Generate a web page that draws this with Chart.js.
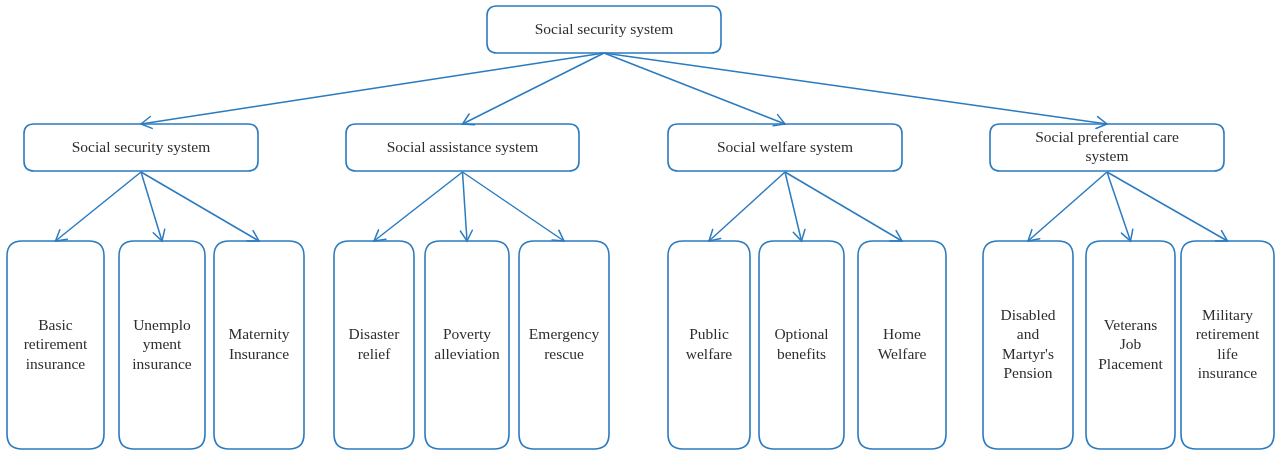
<!DOCTYPE html>
<html>
<head>
<meta charset="utf-8">
<script src="https://cdn.jsdelivr.net/npm/chart.js@4.4.1/dist/chart.umd.min.js"></script>
<style>
html,body{margin:0;padding:0;background:#fff;}
#wrap{position:relative;width:1275px;height:453px;}
</style>
</head>
<body>
<div id="wrap"><canvas id="c"></canvas></div>
<script>
// ---- data ----
const rootLabel = ['Social security system'];
const groupLabels = [
  ['Social security system'],
  ['Social assistance system'],
  ['Social welfare system'],
  ['Social preferential care', 'system']
];
const leafLabels = [
  ['Basic', 'retirement', 'insurance'],
  ['Unemplo', 'yment', 'insurance'],
  ['Maternity', 'Insurance'],
  ['Disaster', 'relief'],
  ['Poverty', 'alleviation'],
  ['Emergency', 'rescue'],
  ['Public', 'welfare'],
  ['Optional', 'benefits'],
  ['Home', 'Welfare'],
  ['Disabled', 'and', "Martyr's", 'Pension'],
  ['Veterans', 'Job', 'Placement'],
  ['Military', 'retirement', 'life', 'insurance']
];
const leafParent = [0,0,0,1,1,1,2,2,2,3,3,3];

// ---- layout (chart units = pixels of the 1275x453 frame) ----
const layout = {
  root: {x1:487, x2:721, y1:6, y2:53, r:10},
  groups: {y1:124, y2:171, r:10, xs:[[24,258],[346,579],[668,902],[990,1224]]},
  leaves: {y1:241, y2:449, r:15, xs:[[7,104],[119,205],[214,304],[334,414],[425,509],[519,609],
                                     [668,750],[759,844],[858,946],[983,1073],[1086,1175],[1181,1274]]}
};
const BLUE = '#2b7bc0';
const TEXT = '#2e2e2e';
const FONT = '15.5px "Liberation Serif", "DejaVu Serif", serif';
const LINE_H = 19.5;

// edges derived from the tree
const edges = [];
const rootCx = (layout.root.x1 + layout.root.x2)/2;
layout.groups.xs.forEach(g => {
  edges.push([{x:rootCx, y:layout.root.y2}, {x:(g[0]+g[1])/2, y:layout.groups.y1}]);
});
layout.leaves.xs.forEach((l,i) => {
  const g = layout.groups.xs[leafParent[i]];
  edges.push([{x:(g[0]+g[1])/2, y:layout.groups.y2+1}, {x:(l[0]+l[1])/2, y:layout.leaves.y1}]);
});

const datasets = edges.map(e => ({
  type:'line', data:e, borderColor:BLUE, borderWidth:1.5, pointRadius:0, fill:false, tension:0
}));

function rrect(ctx, x1, y1, x2, y2, r){
  ctx.beginPath();
  ctx.moveTo(x1+r, y1);
  ctx.lineTo(x2-r, y1);
  ctx.quadraticCurveTo(x2, y1, x2, y1+r);
  ctx.lineTo(x2, y2-r);
  ctx.quadraticCurveTo(x2, y2, x2-r, y2);
  ctx.lineTo(x1+r, y2);
  ctx.quadraticCurveTo(x1, y2, x1, y2-r);
  ctx.lineTo(x1, y1+r);
  ctx.quadraticCurveTo(x1, y1, x1+r, y1);
  ctx.closePath();
}

const treePlugin = {
  id:'tree',
  beforeDatasetsDraw(chart){
    const ctx = chart.ctx;
    const sx = chart.scales.x, sy = chart.scales.y;
    const X = v => sx.getPixelForValue(v), Y = v => sy.getPixelForValue(v);
    const drawBox = (x1,y1,x2,y2,r,lines) => {
      ctx.save();
      rrect(ctx, X(x1), Y(y1), X(x2), Y(y2), r);
      ctx.fillStyle = '#fff'; ctx.fill();
      ctx.strokeStyle = BLUE; ctx.lineWidth = 1.6; ctx.stroke();
      ctx.fillStyle = TEXT; ctx.font = FONT;
      ctx.textAlign = 'center'; ctx.textBaseline = 'middle';
      const cx = (X(x1)+X(x2))/2, cy = (Y(y1)+Y(y2))/2;
      const n = lines.length;
      lines.forEach((t,k) => ctx.fillText(t, cx, cy + (k - (n-1)/2)*LINE_H));
      ctx.restore();
    };
    const R = layout.root;
    drawBox(R.x1, R.y1, R.x2, R.y2, R.r, rootLabel);
    layout.groups.xs.forEach((g,i) => drawBox(g[0], layout.groups.y1, g[1], layout.groups.y2, layout.groups.r, groupLabels[i]));
    layout.leaves.xs.forEach((l,i) => drawBox(l[0], layout.leaves.y1, l[1], layout.leaves.y2, layout.leaves.r, leafLabels[i]));
  },
  afterDatasetsDraw(chart){
    const ctx = chart.ctx;
    ctx.save();
    ctx.strokeStyle = BLUE; ctx.lineWidth = 1.5; ctx.lineCap = 'round';
    chart.data.datasets.forEach((ds, i) => {
      const pts = chart.getDatasetMeta(i).data;
      const a = pts[0], b = pts[1];
      const ang = Math.atan2(b.y - a.y, b.x - a.x);
      const L = 12, w = Math.PI/6;
      ctx.beginPath();
      ctx.moveTo(b.x - L*Math.cos(ang - w), b.y - L*Math.sin(ang - w));
      ctx.lineTo(b.x, b.y);
      ctx.lineTo(b.x - L*Math.cos(ang + w), b.y - L*Math.sin(ang + w));
      ctx.stroke();
    });
    ctx.restore();
  }
};

new Chart(document.getElementById('c'), {
  type:'scatter',
  data:{datasets},
  options:{
    responsive:true, maintainAspectRatio:false, animation:false,
    layout:{padding:0},
    plugins:{legend:{display:false}, tooltip:{enabled:false}},
    scales:{
      x:{type:'linear', min:0, max:1275, display:false},
      y:{type:'linear', min:0, max:453, reverse:true, display:false}
    }
  },
  plugins:[treePlugin]
});
</script>
</body>
</html>
